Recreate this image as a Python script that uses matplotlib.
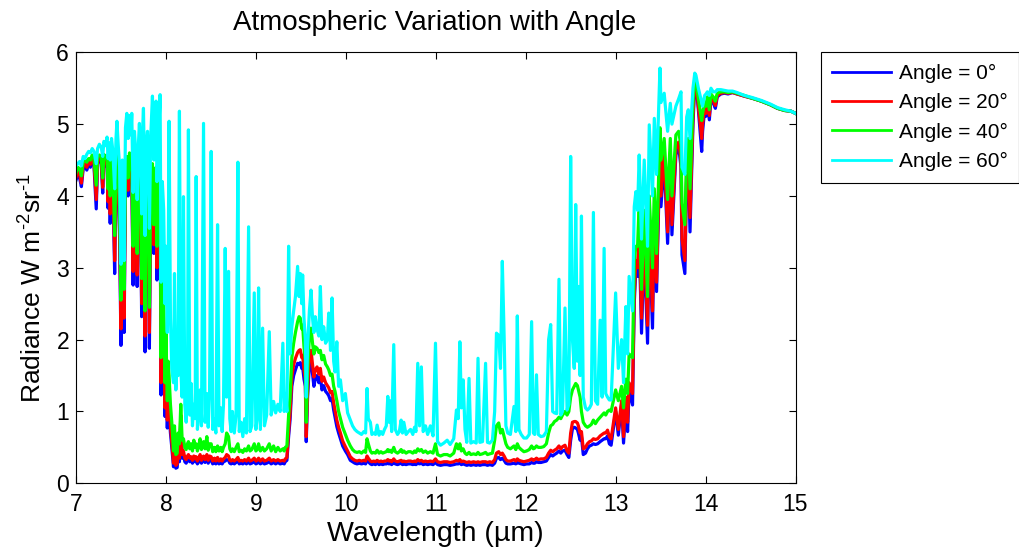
import matplotlib
matplotlib.use("Agg")
import matplotlib.pyplot as plt

plt.rcParams['font.family'] = ['Liberation Sans', 'DejaVu Sans']
plt.rcParams['mathtext.fontset'] = 'custom'
plt.rcParams['mathtext.rm'] = 'Liberation Sans'
plt.rcParams['mathtext.it'] = 'Liberation Sans:italic'
plt.rcParams['mathtext.bf'] = 'Liberation Sans:bold'

# ---------------- data ----------------
wavelength = [
    7.00, 7.02, 7.04, 7.06, 7.08, 7.10, 7.12, 7.14, 7.16, 7.18,
    7.20, 7.225, 7.24, 7.26, 7.28, 7.297, 7.31, 7.33, 7.345, 7.357,
    7.368, 7.38, 7.395, 7.41, 7.43, 7.445, 7.455, 7.47, 7.485, 7.50,
    7.515, 7.535, 7.55, 7.565, 7.58, 7.595, 7.61, 7.62, 7.635, 7.65,
    7.665, 7.68, 7.695, 7.705, 7.718, 7.73, 7.74, 7.75, 7.758, 7.768,
    7.78, 7.795, 7.805, 7.816, 7.83, 7.85, 7.865, 7.88, 7.89, 7.90,
    7.915, 7.935, 7.946, 7.96, 7.975, 7.99, 8.00, 8.015, 8.025, 8.035,
    8.05, 8.065, 8.084, 8.095, 8.11, 8.125, 8.135, 8.15, 8.165, 8.18,
    8.195, 8.21, 8.225, 8.24, 8.25, 8.265, 8.28, 8.295, 8.31, 8.325,
    8.336, 8.35, 8.365, 8.38, 8.395, 8.418, 8.435, 8.455, 8.47, 8.485,
    8.503, 8.52, 8.54, 8.555, 8.574, 8.59, 8.61, 8.625, 8.64, 8.659,
    8.675, 8.696, 8.71, 8.725, 8.74, 8.76, 8.78, 8.80, 8.815, 8.835,
    8.855, 8.875, 8.895, 8.919, 8.935, 8.955, 8.982, 9.00, 9.015, 9.03,
    9.05, 9.075, 9.095, 9.12, 9.149, 9.17, 9.197, 9.22, 9.245, 9.27,
    9.30, 9.315, 9.327, 9.345, 9.364, 9.38, 9.40, 9.42, 9.44, 9.464,
    9.48, 9.494, 9.51, 9.52, 9.535, 9.55, 9.56, 9.575, 9.595, 9.613,
    9.63, 9.645, 9.66, 9.68, 9.70, 9.717, 9.735, 9.754, 9.775, 9.795,
    9.81, 9.83, 9.847, 9.865, 9.88, 9.90, 9.92, 9.94, 9.965, 9.995,
    10.02, 10.05, 10.075, 10.10, 10.125, 10.15, 10.175, 10.20, 10.22, 10.236,
    10.25, 10.273, 10.29, 10.31, 10.33, 10.348, 10.37, 10.39, 10.41, 10.43,
    10.45, 10.467, 10.48, 10.49, 10.51, 10.533, 10.55, 10.575, 10.595, 10.615,
    10.63, 10.645, 10.67, 10.695, 10.72, 10.745, 10.764, 10.78, 10.80, 10.82,
    10.84, 10.86, 10.886, 10.91, 10.94, 10.97, 10.997, 11.02, 11.053, 11.09,
    11.127, 11.16, 11.20, 11.23, 11.25, 11.268, 11.285, 11.305, 11.325, 11.345,
    11.37, 11.39, 11.42, 11.45, 11.47, 11.49, 11.52, 11.554, 11.575, 11.60,
    11.63, 11.655, 11.675, 11.70, 11.72, 11.74, 11.76, 11.78, 11.80, 11.83,
    11.87, 11.89, 11.907, 11.925, 11.95, 11.98, 12.01, 12.04, 12.066, 12.085,
    12.10, 12.12, 12.14, 12.17, 12.20, 12.23, 12.255, 12.278, 12.30, 12.32,
    12.345, 12.37, 12.39, 12.41, 12.437, 12.46, 12.48, 12.50, 12.52, 12.54,
    12.556, 12.575, 12.586, 12.605, 12.62, 12.64, 12.665, 12.686, 12.71, 12.73,
    12.753, 12.775, 12.80, 12.828, 12.85, 12.872, 12.89, 12.91, 12.93, 12.95,
    13.00, 13.03, 13.066, 13.088, 13.114, 13.133, 13.15, 13.188, 13.207, 13.225,
    13.244, 13.262, 13.288, 13.318, 13.355, 13.374, 13.41, 13.43, 13.455, 13.493,
    13.504, 13.54, 13.578, 13.608, 13.626, 13.67, 13.70, 13.727, 13.738, 13.77,
    13.79, 13.808, 13.827, 13.86, 13.88, 13.893, 13.92, 13.957, 13.967, 13.99,
    14.005, 14.02, 14.042, 14.06, 14.085, 14.109, 14.13, 14.17, 14.21, 14.25,
    14.30, 14.35, 14.43, 14.52, 14.62, 14.72, 14.80, 14.88, 14.95, 15.00,
]

rad_0 = [
    4.22, 4.30, 4.25, 4.13, 4.38, 4.42, 4.36, 4.45, 4.40, 4.50,
    4.42, 3.82, 4.45, 4.50, 4.46, 4.04, 4.50, 4.42, 4.48, 3.83,
    4.40, 3.62, 4.35, 4.20, 2.92, 4.30, 4.48, 4.10, 3.40, 1.92,
    3.60, 2.10, 4.20, 4.40, 4.00, 4.50, 4.20, 4.30, 2.76, 4.10,
    3.60, 2.74, 4.00, 4.25, 3.80, 2.32, 4.10, 4.40, 3.60, 1.83,
    3.70, 4.00, 3.30, 1.88, 3.80, 4.30, 3.20, 4.00, 4.20, 2.83,
    3.60, 4.00, 1.23, 2.60, 2.00, 0.93, 1.60, 0.77, 1.20, 1.00,
    0.70, 0.50, 0.23, 0.45, 0.21, 0.22, 0.40, 0.30, 0.86, 0.35,
    0.40, 0.30, 0.28, 0.33, 0.35, 0.30, 0.32, 0.28, 0.34, 0.30,
    0.32, 0.27, 0.30, 0.35, 0.28, 0.33, 0.29, 0.34, 0.28, 0.33,
    0.32, 0.27, 0.30, 0.27, 0.31, 0.27, 0.29, 0.27, 0.30, 0.31,
    0.33, 0.32, 0.28, 0.27, 0.29, 0.27, 0.29, 0.31, 0.27, 0.28,
    0.27, 0.29, 0.27, 0.30, 0.27, 0.28, 0.30, 0.27, 0.28, 0.30,
    0.27, 0.29, 0.27, 0.28, 0.30, 0.27, 0.29, 0.27, 0.29, 0.27,
    0.28, 0.27, 0.30, 0.32, 0.65, 0.88, 1.35, 1.50, 1.58, 1.67,
    1.66, 1.68, 1.60, 1.62, 1.45, 1.35, 0.58, 1.20, 1.65, 1.72,
    1.53, 1.35, 1.45, 1.50, 1.40, 1.48, 1.30, 1.36, 1.28, 1.25,
    1.22, 1.15, 1.18, 1.02, 0.92, 0.79, 0.70, 0.62, 0.52, 0.45,
    0.40, 0.32, 0.30, 0.28, 0.27, 0.28, 0.27, 0.28, 0.27, 0.33,
    0.30, 0.27, 0.26, 0.27, 0.26, 0.28, 0.26, 0.27, 0.26, 0.27,
    0.27, 0.28, 0.27, 0.28, 0.26, 0.29, 0.27, 0.26, 0.27, 0.28,
    0.26, 0.27, 0.26, 0.27, 0.27, 0.26, 0.27, 0.26, 0.28, 0.27,
    0.28, 0.26, 0.27, 0.26, 0.27, 0.26, 0.29, 0.26, 0.25, 0.26,
    0.26, 0.25, 0.26, 0.27, 0.27, 0.28, 0.26, 0.27, 0.26, 0.25,
    0.26, 0.25, 0.26, 0.25, 0.26, 0.25, 0.26, 0.26, 0.25, 0.26,
    0.25, 0.28, 0.35, 0.36, 0.33, 0.35, 0.32, 0.28, 0.27, 0.27,
    0.28, 0.27, 0.29, 0.28, 0.27, 0.26, 0.27, 0.27, 0.29, 0.28,
    0.28, 0.30, 0.29, 0.29, 0.30, 0.31, 0.36, 0.40, 0.38, 0.40,
    0.42, 0.45, 0.42, 0.45, 0.46, 0.40, 0.36, 0.60, 0.76, 0.78,
    0.77, 0.75, 0.70, 0.60, 0.65, 0.40, 0.42, 0.48, 0.52, 0.53,
    0.55, 0.54, 0.55, 0.58, 0.60, 0.62, 0.62, 0.66, 0.55, 0.53,
    1.00, 0.67, 1.10, 0.56, 1.10, 0.72, 1.30, 1.09, 2.50, 3.00,
    2.88, 3.40, 2.09, 3.30, 1.95, 3.50, 2.16, 3.60, 2.67, 4.60,
    3.85, 4.50, 3.34, 4.50, 3.46, 4.57, 4.70, 4.40, 3.18, 2.92,
    4.30, 4.50, 3.50, 5.00, 5.55, 5.57, 5.20, 4.62, 4.90, 5.20,
    5.11, 5.30, 5.06, 5.35, 5.30, 5.22, 5.38, 5.42, 5.43, 5.42,
    5.44, 5.42, 5.39, 5.36, 5.32, 5.27, 5.22, 5.19, 5.18, 5.15,
]

rad_20 = [
    4.26, 4.34, 4.30, 4.18, 4.42, 4.45, 4.40, 4.48, 4.44, 4.53,
    4.46, 3.95, 4.48, 4.53, 4.50, 4.12, 4.53, 4.46, 4.51, 3.92,
    4.45, 3.75, 4.40, 4.26, 3.10, 4.36, 4.52, 4.16, 3.55, 2.15,
    3.72, 2.30, 4.26, 4.45, 4.08, 4.55, 4.26, 4.35, 2.95, 4.16,
    3.70, 2.90, 4.08, 4.30, 3.90, 2.50, 4.18, 4.45, 3.72, 2.05,
    3.80, 4.06, 3.45, 2.10, 3.90, 4.35, 3.32, 4.10, 4.28, 3.00,
    3.70, 4.10, 1.40, 2.75, 2.20, 1.05, 1.75, 0.88, 1.35, 1.15,
    0.80, 0.58, 0.28, 0.52, 0.25, 0.27, 0.48, 0.35, 0.95, 0.40,
    0.45, 0.35, 0.33, 0.38, 0.40, 0.35, 0.37, 0.32, 0.38, 0.34,
    0.37, 0.31, 0.35, 0.40, 0.32, 0.38, 0.33, 0.40, 0.32, 0.38,
    0.37, 0.31, 0.35, 0.31, 0.36, 0.31, 0.34, 0.31, 0.34, 0.36,
    0.40, 0.38, 0.32, 0.31, 0.33, 0.31, 0.33, 0.36, 0.31, 0.32,
    0.31, 0.33, 0.31, 0.35, 0.31, 0.32, 0.35, 0.31, 0.32, 0.35,
    0.31, 0.34, 0.31, 0.32, 0.35, 0.31, 0.33, 0.31, 0.33, 0.31,
    0.32, 0.31, 0.34, 0.36, 0.72, 0.98, 1.48, 1.65, 1.74, 1.82,
    1.85, 1.86, 1.75, 1.78, 1.58, 1.45, 0.65, 1.30, 1.78, 1.85,
    1.65, 1.48, 1.58, 1.62, 1.52, 1.60, 1.42, 1.48, 1.40, 1.36,
    1.33, 1.26, 1.28, 1.12, 1.02, 0.88, 0.78, 0.70, 0.59, 0.51,
    0.45, 0.37, 0.34, 0.32, 0.31, 0.32, 0.31, 0.32, 0.31, 0.38,
    0.35, 0.31, 0.30, 0.31, 0.30, 0.32, 0.30, 0.31, 0.30, 0.31,
    0.31, 0.33, 0.31, 0.32, 0.30, 0.34, 0.31, 0.30, 0.31, 0.32,
    0.30, 0.31, 0.30, 0.31, 0.31, 0.30, 0.31, 0.30, 0.33, 0.31,
    0.32, 0.30, 0.31, 0.30, 0.31, 0.30, 0.34, 0.30, 0.29, 0.30,
    0.30, 0.29, 0.30, 0.32, 0.31, 0.33, 0.30, 0.31, 0.30, 0.29,
    0.30, 0.29, 0.30, 0.29, 0.30, 0.29, 0.30, 0.30, 0.29, 0.30,
    0.29, 0.33, 0.42, 0.44, 0.40, 0.42, 0.38, 0.33, 0.31, 0.31,
    0.33, 0.31, 0.34, 0.32, 0.31, 0.30, 0.31, 0.32, 0.34, 0.32,
    0.33, 0.35, 0.33, 0.34, 0.34, 0.36, 0.42, 0.46, 0.44, 0.46,
    0.48, 0.52, 0.48, 0.51, 0.53, 0.45, 0.42, 0.70, 0.85, 0.86,
    0.86, 0.84, 0.80, 0.70, 0.72, 0.48, 0.50, 0.55, 0.58, 0.59,
    0.62, 0.61, 0.62, 0.66, 0.68, 0.70, 0.70, 0.74, 0.65, 0.62,
    1.05, 0.75, 1.15, 0.65, 1.20, 0.85, 1.40, 1.25, 2.60, 3.10,
    3.00, 3.50, 2.30, 3.40, 2.20, 3.60, 2.40, 3.70, 2.80, 4.70,
    4.00, 4.60, 3.50, 4.60, 3.60, 4.65, 4.75, 4.50, 3.40, 3.10,
    4.40, 4.60, 3.70, 5.10, 5.60, 5.60, 5.25, 4.80, 5.00, 5.25,
    5.15, 5.33, 5.12, 5.38, 5.33, 5.26, 5.40, 5.43, 5.44, 5.43,
    5.44, 5.42, 5.39, 5.36, 5.32, 5.27, 5.22, 5.19, 5.18, 5.15,
]

rad_40 = [
    4.32, 4.40, 4.38, 4.28, 4.48, 4.50, 4.47, 4.52, 4.50, 4.57,
    4.52, 4.15, 4.54, 4.57, 4.55, 4.25, 4.58, 4.52, 4.56, 4.10,
    4.50, 4.00, 4.48, 4.36, 3.45, 4.46, 4.60, 4.30, 3.85, 2.55,
    3.95, 2.70, 4.40, 4.55, 4.25, 4.60, 4.38, 4.45, 3.30, 4.30,
    3.95, 3.20, 4.25, 4.40, 4.10, 2.85, 4.32, 4.55, 3.95, 2.40,
    4.00, 4.20, 3.70, 2.45, 4.10, 4.45, 3.60, 4.25, 4.40, 3.30,
    3.95, 4.28, 1.75, 3.10, 2.60, 1.40, 2.10, 1.15, 1.70, 1.50,
    1.10, 0.85, 0.45, 0.80, 0.40, 0.42, 0.70, 0.55, 1.10, 0.60,
    0.62, 0.50, 0.47, 0.55, 0.58, 0.48, 0.55, 0.45, 0.60, 0.50,
    0.55, 0.45, 0.52, 0.62, 0.47, 0.58, 0.48, 0.65, 0.46, 0.55,
    0.55, 0.44, 0.50, 0.44, 0.52, 0.45, 0.50, 0.44, 0.50, 0.55,
    0.70, 0.65, 0.48, 0.44, 0.48, 0.44, 0.50, 0.55, 0.44, 0.46,
    0.43, 0.48, 0.45, 0.52, 0.45, 0.47, 0.55, 0.45, 0.47, 0.55,
    0.45, 0.50, 0.45, 0.48, 0.55, 0.45, 0.52, 0.44, 0.50, 0.45,
    0.48, 0.45, 0.50, 0.52, 0.95, 1.20, 1.75, 1.95, 2.10, 2.25,
    2.32, 2.30, 2.15, 2.20, 1.90, 1.70, 0.85, 1.55, 2.05, 2.16,
    1.95, 1.80, 1.90, 1.88, 1.82, 1.85, 1.72, 1.78, 1.66, 1.62,
    1.58, 1.50, 1.52, 1.35, 1.28, 1.15, 1.00, 0.90, 0.78, 0.68,
    0.60, 0.52, 0.47, 0.44, 0.43, 0.44, 0.42, 0.45, 0.43, 0.62,
    0.55, 0.45, 0.42, 0.43, 0.42, 0.46, 0.42, 0.44, 0.42, 0.43,
    0.44, 0.47, 0.44, 0.46, 0.43, 0.50, 0.44, 0.42, 0.44, 0.47,
    0.43, 0.45, 0.42, 0.44, 0.44, 0.42, 0.45, 0.43, 0.48, 0.45,
    0.47, 0.43, 0.45, 0.42, 0.44, 0.42, 0.55, 0.40, 0.38, 0.40,
    0.40, 0.38, 0.42, 0.55, 0.48, 0.55, 0.45, 0.48, 0.42, 0.40,
    0.43, 0.40, 0.41, 0.40, 0.43, 0.40, 0.41, 0.43, 0.40, 0.41,
    0.42, 0.60, 0.80, 0.84, 0.70, 0.75, 0.65, 0.55, 0.50, 0.48,
    0.52, 0.47, 0.55, 0.50, 0.47, 0.44, 0.45, 0.47, 0.52, 0.48,
    0.49, 0.52, 0.50, 0.50, 0.51, 0.55, 0.70, 0.80, 0.82, 0.86,
    0.88, 0.92, 0.90, 0.95, 1.00, 0.95, 1.00, 1.20, 1.30, 1.35,
    1.39, 1.36, 1.30, 1.20, 1.00, 0.85, 0.80, 0.78, 0.80, 0.82,
    0.88, 0.83, 0.88, 0.92, 0.95, 0.98, 0.95, 1.00, 1.02, 1.00,
    1.30, 1.15, 1.35, 1.05, 1.45, 1.25, 1.80, 1.75, 3.10, 3.30,
    3.30, 3.90, 2.70, 3.80, 2.60, 4.00, 3.00, 4.10, 3.20, 4.95,
    4.50, 4.80, 3.95, 4.80, 4.00, 4.85, 4.90, 4.70, 3.90, 3.60,
    4.60, 4.80, 4.10, 5.30, 5.65, 5.62, 5.35, 5.05, 5.15, 5.30,
    5.25, 5.38, 5.20, 5.42, 5.38, 5.32, 5.43, 5.45, 5.45, 5.44,
    5.45, 5.43, 5.40, 5.36, 5.32, 5.27, 5.22, 5.19, 5.18, 5.15,
]

rad_60 = [
    4.42, 4.45, 4.48, 4.42, 4.55, 4.52, 4.58, 4.62, 4.60, 4.66,
    4.62, 4.45, 4.66, 4.72, 4.68, 4.55, 4.76, 4.70, 4.82, 4.52,
    4.74, 4.50, 4.80, 4.62, 4.10, 4.80, 5.04, 4.70, 4.40, 3.05,
    4.50, 3.10, 4.95, 5.15, 4.80, 5.12, 4.85, 5.15, 4.05, 4.90,
    4.60, 3.95, 4.75, 5.01, 4.50, 3.75, 4.90, 5.22, 4.60, 3.45,
    4.70, 4.90, 4.30, 3.55, 4.80, 5.39, 4.50, 4.95, 5.32, 4.20,
    4.70, 5.41, 2.80, 4.20, 3.80, 2.50, 3.30, 2.10, 3.00, 5.04,
    2.30, 1.60, 1.40, 2.92, 1.30, 1.70, 1.50, 5.18, 1.60, 1.20,
    3.99, 1.10, 0.85, 1.30, 4.92, 0.95, 1.39, 0.80, 1.10, 0.90,
    4.27, 0.75, 1.00, 1.30, 0.80, 5.01, 0.85, 1.25, 0.78, 1.25,
    4.62, 0.75, 0.90, 0.70, 3.60, 0.80, 1.05, 0.72, 1.10, 3.27,
    1.20, 2.95, 0.90, 0.72, 1.00, 0.70, 0.95, 4.47, 0.72, 0.85,
    0.65, 0.90, 0.70, 3.57, 0.72, 0.80, 2.65, 0.75, 0.90, 2.72,
    0.75, 2.16, 0.80, 0.95, 2.11, 0.95, 1.14, 0.98, 1.10, 1.00,
    1.95, 1.00, 1.25, 1.00, 3.30, 1.80, 2.18, 2.40, 2.60, 3.02,
    2.60, 2.92, 2.50, 2.90, 2.30, 2.00, 1.20, 1.90, 2.40, 2.69,
    2.30, 2.10, 2.32, 2.15, 2.05, 2.74, 2.00, 2.18, 1.95, 2.00,
    2.37, 1.85, 2.58, 1.70, 1.55, 1.97, 1.35, 1.44, 1.15, 1.25,
    0.98, 0.88, 0.80, 0.75, 0.72, 0.70, 0.68, 0.72, 0.70, 1.32,
    0.90, 0.85, 0.68, 0.70, 0.68, 0.81, 0.67, 0.72, 0.68, 0.75,
    0.80, 1.21, 0.85, 1.15, 0.72, 1.93, 0.75, 0.68, 0.72, 0.88,
    0.70, 0.85, 0.68, 0.72, 0.75, 0.68, 0.78, 0.72, 1.67, 0.80,
    1.62, 0.72, 0.80, 0.68, 0.80, 0.66, 1.95, 0.58, 0.53, 0.56,
    0.60, 0.54, 0.62, 1.02, 0.90, 1.97, 1.05, 1.44, 0.75, 0.57,
    1.46, 0.56, 0.58, 0.56, 1.74, 0.57, 0.58, 1.67, 0.57, 0.56,
    0.60, 1.00, 2.09, 2.06, 1.60, 3.09, 2.06, 0.80, 0.70, 0.68,
    1.07, 0.72, 2.33, 0.75, 0.68, 0.63, 0.63, 0.68, 2.25, 0.70,
    0.68, 1.51, 0.68, 0.65, 0.66, 0.72, 2.00, 2.21, 1.00, 0.98,
    0.97, 2.84, 0.95, 1.00, 2.44, 1.02, 1.10, 4.55, 2.00, 1.60,
    3.88, 1.70, 2.74, 1.50, 3.72, 1.20, 1.05, 1.02, 1.05, 1.10,
    3.77, 1.15, 1.10, 2.27, 1.20, 3.27, 1.25, 1.20, 1.16, 1.16,
    2.65, 1.60, 2.00, 1.40, 2.46, 1.80, 2.88, 2.40, 3.85, 4.06,
    3.80, 4.57, 3.40, 4.50, 3.30, 4.99, 4.00, 5.08, 4.30, 5.78,
    5.30, 5.43, 4.90, 5.29, 5.00, 5.25, 5.35, 5.45, 4.40, 4.30,
    5.10, 5.20, 4.80, 5.50, 5.71, 5.68, 5.50, 5.30, 5.25, 5.40,
    5.42, 5.45, 5.40, 5.50, 5.45, 5.45, 5.48, 5.48, 5.47, 5.46,
    5.46, 5.44, 5.40, 5.37, 5.33, 5.28, 5.23, 5.20, 5.18, 5.15,
]

series_labels = ["Angle = 0°", "Angle = 20°", "Angle = 40°", "Angle = 60°"]
series_colors = ["#0000ff", "#ff0000", "#00ff00", "#00ffff"]
x_ticks = [7, 8, 9, 10, 11, 12, 13, 14, 15]
y_ticks = [0, 1, 2, 3, 4, 5, 6]

# ---------------- figure ----------------
W, H = 1019, 548
fig = plt.figure(figsize=(W / 100, H / 100), dpi=100)
ax = fig.add_axes([76 / W, 1 - 483.3 / H, (795.5 - 76) / W, (483.3 - 52.3) / H])

for vals, lab, col in zip([rad_0, rad_20, rad_40, rad_60], series_labels, series_colors):
    ax.plot(wavelength, vals, color=col, lw=2.3, label=lab)

ax.set_xlim(7, 15)
ax.set_ylim(0, 6)
ax.set_xticks(x_ticks)
ax.set_yticks(y_ticks)
ax.tick_params(direction='in', top=True, right=True, length=5, width=0.8,
               labelsize=16.5, colors='black')
ax.tick_params(axis='x', pad=7)
ax.tick_params(axis='y', pad=5)
for s in ax.spines.values():
    s.set_linewidth(0.8)

fig.text(435 / W, 1 - 23 / H, "Atmospheric Variation with Angle", ha='center',
         va='center', fontsize=20)
fig.text(435 / W, 1 - 534 / H, "Wavelength (µm)", ha='center', va='center', fontsize=20.5)
fig.text(33 / W, 1 - 288 / H, r"Radiance W m$^{\text{-}2}$sr$^{\text{-}1}$",
         ha='center', va='center', rotation=90, fontsize=19)

leg = ax.legend(loc='upper left', bbox_to_anchor=(821 / W, 1 - 52.3 / H),
                bbox_transform=fig.transFigure, borderaxespad=0, fontsize=15,
                fancybox=False, framealpha=1, edgecolor='black',
                handlelength=2.8, handletextpad=0.4, labelspacing=0.5,
                borderpad=0.55)
leg.get_frame().set_linewidth(0.8)
for h in leg.get_lines():
    h.set_linewidth(2.0)

fig.savefig("out.png", dpi=100)
